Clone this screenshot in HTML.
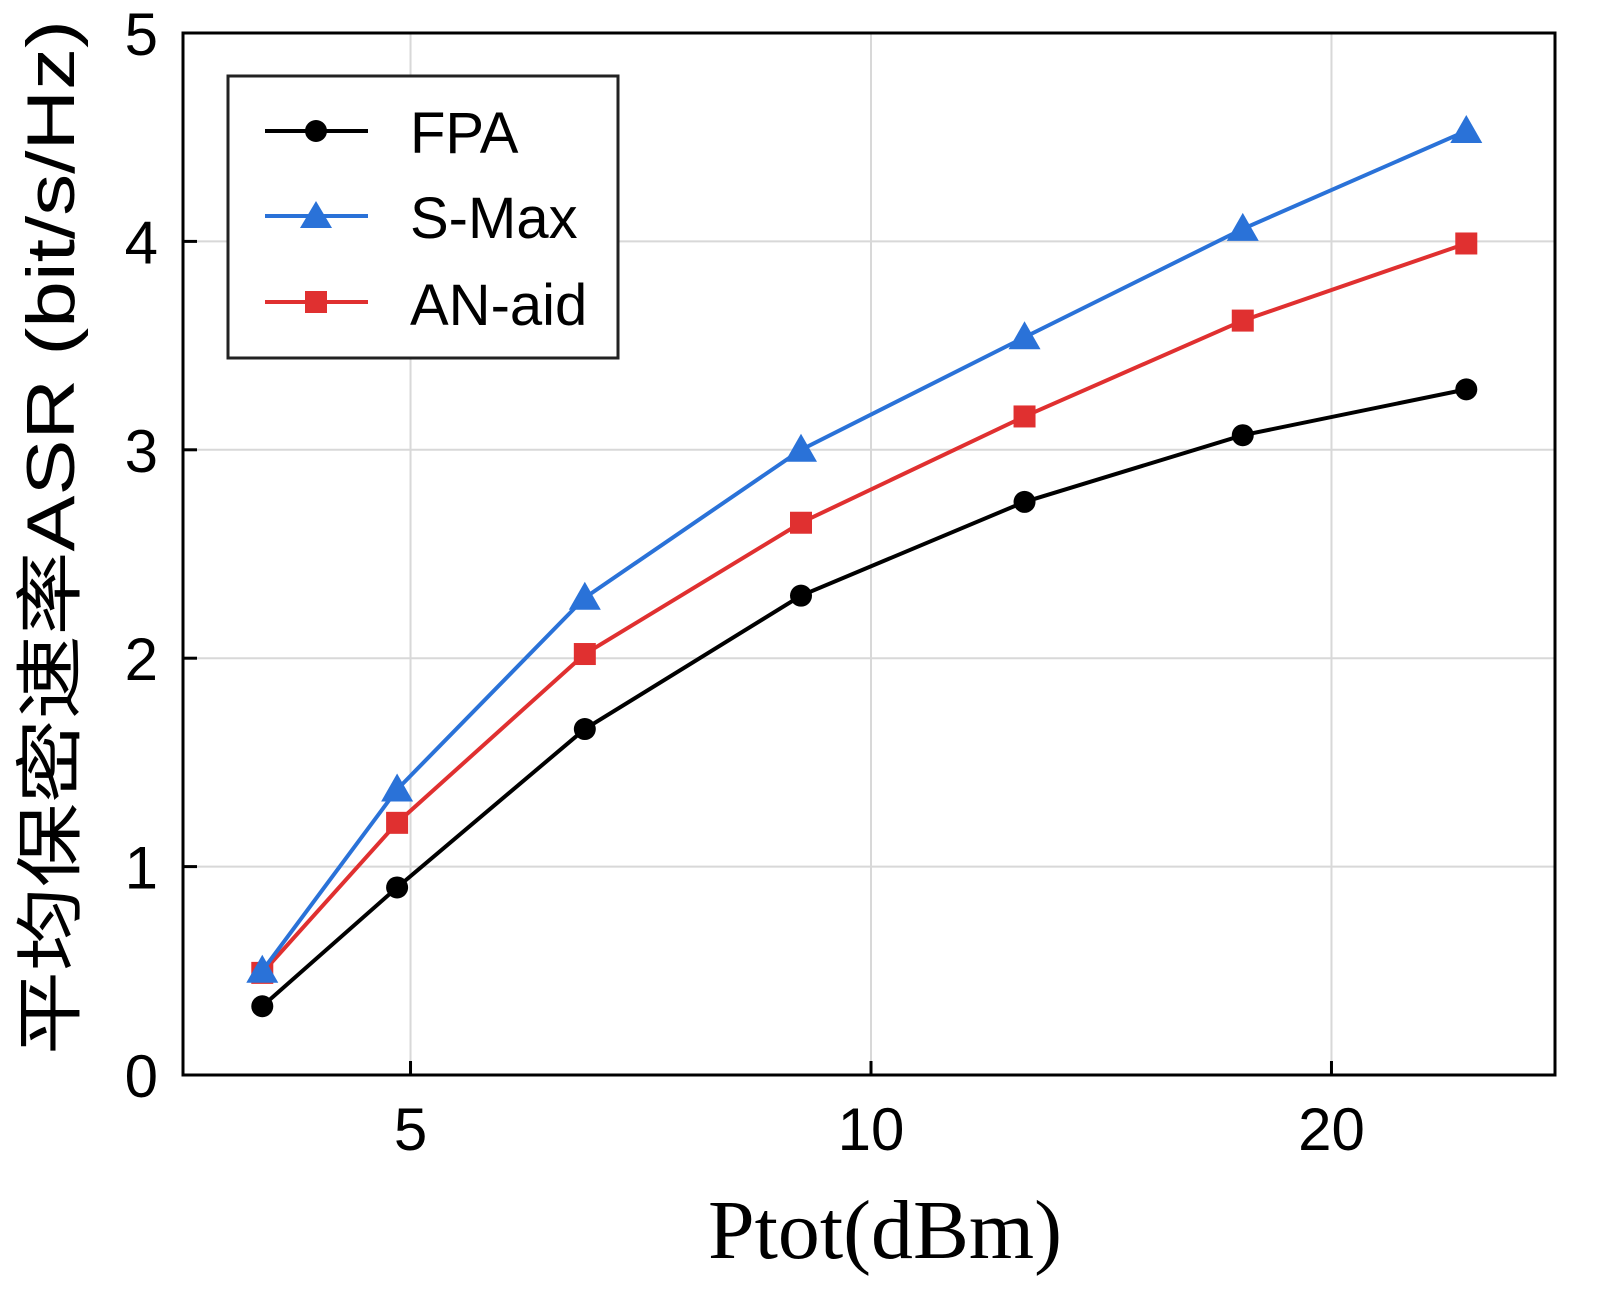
<!DOCTYPE html>
<html><head><meta charset="utf-8"><style>
body{margin:0;background:#fff}
svg{display:block}
text{font-family:"Liberation Sans","Noto Sans CJK SC",sans-serif;fill:#000}
</style></head><body>
<svg id="chart" width="1600" height="1294" viewBox="0 0 1600 1294" xmlns="http://www.w3.org/2000/svg">
<g id="grid"></g>
<rect x="183" y="33" width="1372" height="1042" fill="none" stroke="#000" stroke-width="3"/>
<g id="ticks"></g>
<g id="series"></g>
<text x="708" y="1258" font-size="84" textLength="354" lengthAdjust="spacingAndGlyphs" style="font-family:'Liberation Serif','Noto Serif CJK SC',serif">Ptot(dBm)</text>
<text transform="translate(74,1055) rotate(-90)" font-size="68" textLength="1035" lengthAdjust="spacingAndGlyphs">平均保密速率ASR (bit/s/Hz)</text>
<g>
<rect x="228" y="76" width="390" height="282" fill="#fff" stroke="#222" stroke-width="3"/>
<g>
<line x1="265" y1="131" x2="368" y2="131" stroke="#000" stroke-width="4"/><circle cx="316" cy="131" r="11" fill="#000"/>
<text x="410" y="153" font-size="58">FPA</text></g>
<g>
<line x1="265" y1="216" x2="368" y2="216" stroke="#2a72d8" stroke-width="4"/><polygon points="316,201 332,228 300,228" fill="#2a72d8"/>
<text x="410" y="238" font-size="58">S-Max</text></g>
<g>
<line x1="265" y1="302" x2="368" y2="302" stroke="#e03030" stroke-width="4"/><rect x="305" y="291" width="22" height="22" fill="#e03030"/>
<text x="410" y="325" font-size="58">AN-aid</text></g>
</g>
</svg>
<script>
const xValues=[4,4.9,6.5,9,12.6,17.5,24.5];
const fpa=[0.33,0.90,1.66,2.30,2.75,3.07,3.29];
const smax=[0.50,1.37,2.29,3.00,3.54,4.06,4.53];
const anaid=[0.49,1.21,2.02,2.65,3.16,3.62,3.99];
const xTicks=[5,10,20];
const yTicks=[0,1,2,3,4,5];
const NS="http://www.w3.org/2000/svg";
const L=183,R=1555,T=33,B=1075,XMIN=3.55,XMAX=28.0,YMIN=0,YMAX=5;
function sx(v){return L+(Math.log(v)-Math.log(XMIN))/(Math.log(XMAX)-Math.log(XMIN))*(R-L);}
function sy(v){return B-(v-YMIN)/(YMAX-YMIN)*(B-T);}
function mk(tag,attrs,parent){const e=document.createElementNS(NS,tag);for(const k in attrs)e.setAttribute(k,attrs[k]);parent.appendChild(e);return e;}
const grid=document.getElementById('grid'),ticks=document.getElementById('ticks'),series=document.getElementById('series');
xTicks.forEach(v=>{const x=sx(v);
const g=mk('line',{x1:x,y1:T,x2:x,y2:B,stroke:'#d8d8d8','stroke-width':2},grid);


const t=mk('line',{x1:x,y1:B,x2:x,y2:B-14,stroke:'#000','stroke-width':3},ticks);


const l=mk('text',{x:x,y:B+75,'font-size':60,'text-anchor':'middle'},ticks);l.textContent=v;

});
yTicks.forEach(v=>{const y=sy(v);
if(v>0&&v<5){const g=mk('line',{x1:L,y1:y,x2:R,y2:y,stroke:'#d8d8d8','stroke-width':2},grid);

}
const t=mk('line',{x1:L,y1:y,x2:L+14,y2:y,stroke:'#000','stroke-width':3},ticks);


const l=mk('text',{x:158,y:y+22,'font-size':60,'text-anchor':'end'},ticks);l.textContent=v;

});
function draw(vals,color,shape,name){
const pts=vals.map((v,i)=>sx(xValues[i])+','+sy(v)).join(' ');
const pl=mk('polyline',{points:pts,fill:'none',stroke:color,'stroke-width':4},series);


vals.forEach((v,i)=>{const x=sx(xValues[i]),y=sy(v);let m;
if(shape==='c')m=mk('circle',{cx:x,cy:y,r:11,fill:color},series);
else if(shape==='t')m=mk('polygon',{points:`${x},${y-16} ${x+16},${y+12} ${x-16},${y+12}`,fill:color},series);
else m=mk('rect',{x:x-11,y:y-11,width:22,height:22,fill:color},series);

});}
draw(fpa,'#000','c','fpa');
draw(anaid,'#e03030','s','an-aid');
draw(smax,'#2a72d8','t','s-max');
</script>
</body></html>
